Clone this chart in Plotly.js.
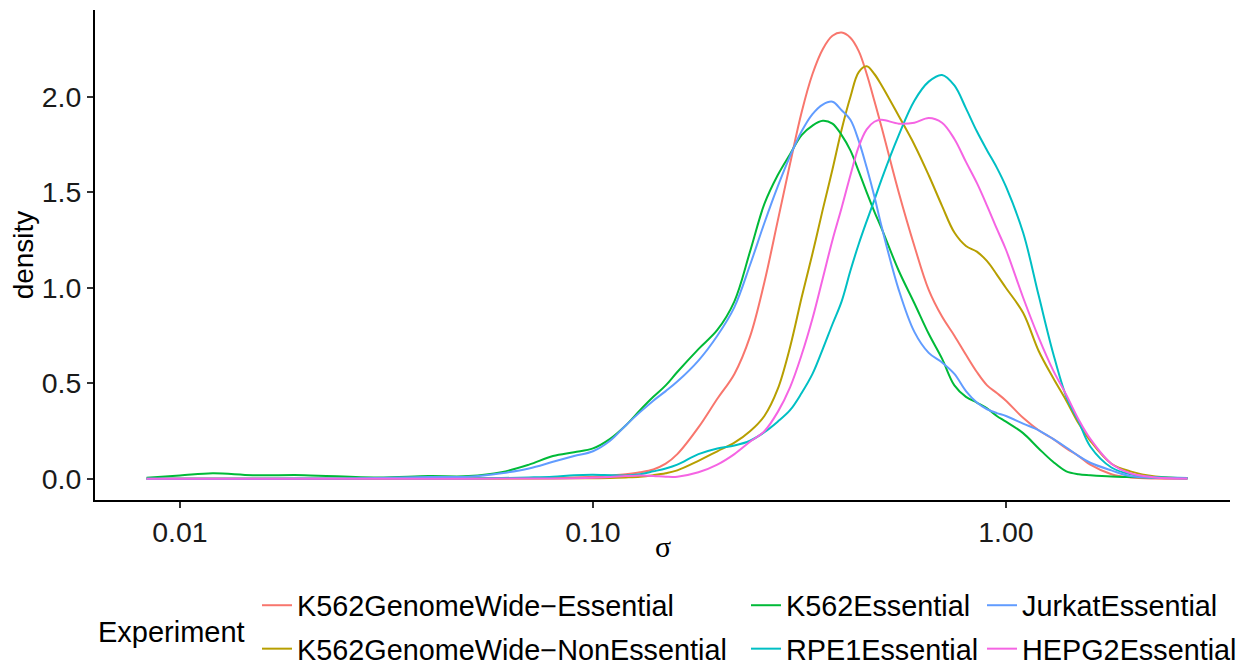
<!DOCTYPE html>
<html>
<head>
<meta charset="utf-8">
<script src="https://cdn.plot.ly/plotly-3.0.1.min.js"></script>
<style>
  html, body { margin: 0; padding: 0; background: #ffffff; }
  #chart { width: 1245px; height: 668px; }
</style>
</head>
<body>
<div id="chart"></div>
<script>
// sigma grid (x values, shared by all series)
const sigma = [0.0083, 0.01, 0.012, 0.015, 0.02, 0.03, 0.04, 0.05, 0.06, 0.07, 0.08, 0.09,
  0.1, 0.11, 0.12, 0.13, 0.14, 0.15, 0.16, 0.18, 0.2, 0.22, 0.24, 0.26, 0.28, 0.3, 0.32, 0.34,
  0.36, 0.38, 0.4, 0.42, 0.44, 0.46, 0.48, 0.5, 0.55, 0.6, 0.65, 0.7, 0.75, 0.8, 0.85, 0.9,
  0.95, 1.0, 1.1, 1.2, 1.3, 1.4, 1.5, 1.6, 1.8, 2.0, 2.3, 2.75];

const k562GenomeWideEssential = [0.001, 0.001, 0.001, 0.001, 0.001, 0.002, 0.002, 0.003, 0.003, 0.004, 0.005, 0.008,
  0.012, 0.018, 0.025, 0.035, 0.05, 0.08, 0.13, 0.27, 0.42, 0.55, 0.745, 1.03, 1.35, 1.65, 1.92, 2.12,
  2.25, 2.32, 2.337, 2.31, 2.24, 2.12, 1.98, 1.84, 1.50, 1.22, 0.99, 0.85, 0.75, 0.65, 0.56, 0.49,
  0.45, 0.41, 0.32, 0.255, 0.21, 0.16, 0.12, 0.075, 0.025, 0.008, 0.002, 0.001];

const k562GenomeWideNonEssential = [0.001, 0.001, 0.001, 0.001, 0.001, 0.001, 0.002, 0.002, 0.002, 0.003, 0.003, 0.004,
  0.004, 0.005, 0.008, 0.012, 0.02, 0.03, 0.045, 0.095, 0.145, 0.19, 0.25, 0.33, 0.47, 0.69, 0.95, 1.18,
  1.41, 1.62, 1.83, 2.0, 2.13, 2.16, 2.12, 2.06, 1.90, 1.75, 1.59, 1.43, 1.29, 1.22, 1.19, 1.14,
  1.07, 1.0, 0.87, 0.67, 0.53, 0.41, 0.29, 0.20, 0.08, 0.04, 0.013, 0.004];

const k562Essential = [0.007, 0.018, 0.03, 0.02, 0.02, 0.008, 0.015, 0.015, 0.035, 0.075, 0.12, 0.14,
  0.16, 0.21, 0.28, 0.36, 0.43, 0.49, 0.56, 0.68, 0.78, 0.93, 1.19, 1.44, 1.59, 1.70, 1.80, 1.85,
  1.875, 1.86, 1.80, 1.72, 1.61, 1.50, 1.40, 1.31, 1.09, 0.92, 0.76, 0.63, 0.49, 0.43, 0.40, 0.37,
  0.33, 0.30, 0.24, 0.16, 0.09, 0.04, 0.025, 0.02, 0.013, 0.01, 0.006, 0.004];

const rpe1Essential = [0.001, 0.001, 0.001, 0.001, 0.001, 0.002, 0.002, 0.003, 0.005, 0.008, 0.012, 0.02,
  0.022, 0.02, 0.018, 0.025, 0.04, 0.055, 0.075, 0.13, 0.16, 0.175, 0.20, 0.245, 0.30, 0.36, 0.45, 0.55,
  0.68, 0.81, 0.93, 1.09, 1.23, 1.35, 1.46, 1.57, 1.80, 1.98, 2.08, 2.115, 2.06, 1.94, 1.82, 1.72,
  1.63, 1.53, 1.29, 0.96, 0.66, 0.43, 0.30, 0.17, 0.06, 0.025, 0.01, 0.005];

const jurkatEssential = [0.001, 0.001, 0.001, 0.001, 0.002, 0.005, 0.01, 0.012, 0.03, 0.055, 0.09, 0.12,
  0.145, 0.20, 0.28, 0.35, 0.41, 0.46, 0.51, 0.62, 0.75, 0.90, 1.12, 1.34, 1.53, 1.69, 1.82, 1.91,
  1.96, 1.975, 1.93, 1.88, 1.77, 1.63, 1.48, 1.32, 0.99, 0.77, 0.66, 0.61, 0.55, 0.46, 0.40, 0.365,
  0.345, 0.33, 0.29, 0.255, 0.21, 0.165, 0.12, 0.085, 0.045, 0.015, 0.006, 0.003];

const hepg2Essential = [0.001, 0.001, 0.001, 0.001, 0.001, 0.001, 0.001, 0.001, 0.002, 0.002, 0.003, 0.004,
  0.006, 0.01, 0.015, 0.018, 0.016, 0.012, 0.012, 0.035, 0.075, 0.13, 0.195, 0.25, 0.35, 0.48, 0.65, 0.84,
  1.05, 1.25, 1.42, 1.59, 1.74, 1.83, 1.87, 1.88, 1.86, 1.865, 1.89, 1.865, 1.78, 1.66, 1.55, 1.43,
  1.31, 1.20, 0.95, 0.74, 0.57, 0.44, 0.31, 0.21, 0.08, 0.03, 0.008, 0.003];

const seriesNames = ["K562GenomeWide\u2212Essential", "K562GenomeWide\u2212NonEssential", "K562Essential",
  "RPE1Essential", "JurkatEssential", "HEPG2Essential"];
const seriesValues = [k562GenomeWideEssential, k562GenomeWideNonEssential, k562Essential,
  rpe1Essential, jurkatEssential, hepg2Essential];
const seriesColors = ["#F8766D", "#B79F00", "#00BA38", "#00BFC4", "#619CFF", "#F564E3"];
const seriesLegend = ["legend", "legend", "legend2", "legend2", "legend3", "legend3"];

const xTickVals = [0.01, 0.1, 1];
const xTickText = ["0.01", "0.10", "1.00"];
const yTickVals = [0, 0.5, 1, 1.5, 2];
const yTickText = ["0.0", "0.5", "1.0", "1.5", "2.0"];

const traces = seriesNames.map((name, i) => ({
  type: "scatter",
  mode: "lines",
  name: name,
  x: sigma,
  y: seriesValues[i],
  line: { color: seriesColors[i], width: 2, shape: "spline", smoothing: 1 },
  legend: seriesLegend[i],
  legendgroup: "g" + i,
  hoverinfo: "x+y+name"
}));

const W = 1245, H = 668;
const mL = 95, mR = 15, mT = 10, mB = 168;
const pw = W - mL - mR, ph = H - mT - mB;
const px = p => (p - mL) / pw;
const py = p => (H - mB - p) / ph;

const sans = "Liberation Sans, Arial, Helvetica, sans-serif";
const legendFont = { family: sans, size: 28.8, color: "#000000" };
const legendCommon = {
  orientation: "v", xanchor: "left", yanchor: "top",
  font: legendFont, bgcolor: "rgba(0,0,0,0)", borderwidth: 0, tracegroupgap: 3
};

const layout = {
  width: W, height: H,
  margin: { l: mL, r: mR, t: mT, b: mB, autoexpand: false },
  paper_bgcolor: "#ffffff",
  plot_bgcolor: "#ffffff",
  font: { family: sans, color: "#000000" },
  showlegend: true,
  xaxis: {
    type: "log",
    range: [-2.2058, 0.5424],
    tickvals: xTickVals,
    ticktext: xTickText,
    showgrid: false, zeroline: false,
    showline: true, linecolor: "#000000", linewidth: 2,
    ticks: "outside", ticklen: 6, tickwidth: 2, tickcolor: "#333333",
    tickfont: { size: 28.5, color: "#1a1a1a" },
    automargin: false
  },
  yaxis: {
    range: [-0.110, 2.455],
    tickvals: yTickVals,
    ticktext: yTickText,
    showgrid: false, zeroline: false,
    showline: true, linecolor: "#000000", linewidth: 2,
    ticks: "outside", ticklen: 6, tickwidth: 2, tickcolor: "#333333",
    tickfont: { size: 28.5, color: "#1a1a1a" },
    title: { text: "density", font: { size: 28, color: "#000000" }, standoff: 0 },
    automargin: false
  },
  legend: Object.assign({}, legendCommon, { x: px(257), y: py(580) }),
  legend2: Object.assign({}, legendCommon, { x: px(746), y: py(580) }),
  legend3: Object.assign({}, legendCommon, { x: px(982), y: py(580) }),
  annotations: [
    {
      text: "Experiment", xref: "paper", yref: "paper",
      x: px(96), y: py(632), xanchor: "left", yanchor: "middle",
      showarrow: false, font: { size: 29, color: "#000000" }
    },
    {
      text: "\u03C3", xref: "paper", yref: "paper",
      x: 0.5, y: py(546), xanchor: "center", yanchor: "middle",
      showarrow: false, font: { family: "Liberation Serif, Times New Roman, serif", size: 30, color: "#000000" }
    }
  ]
};

Plotly.newPlot("chart", traces, layout, { displayModeBar: false, responsive: false });
</script>
</body>
</html>
